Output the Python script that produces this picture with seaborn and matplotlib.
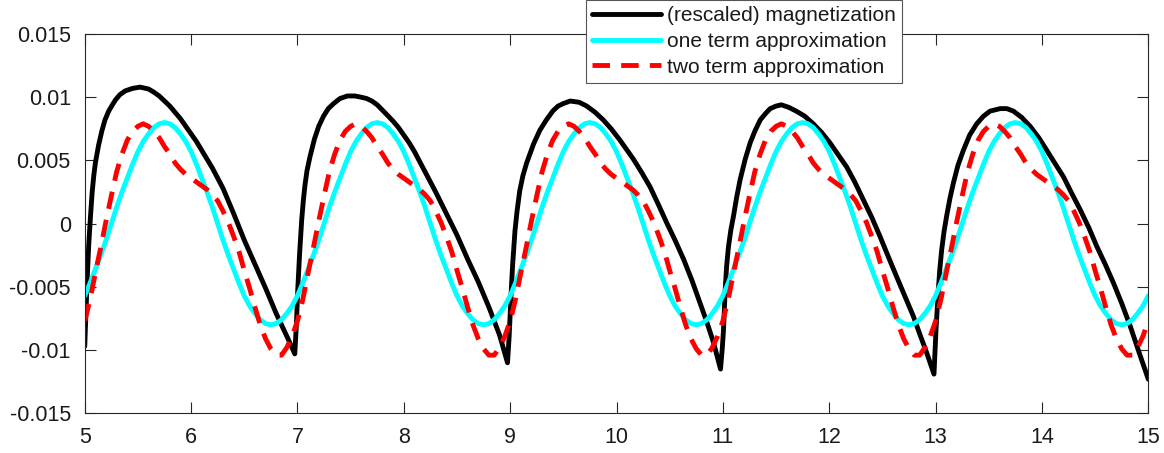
import numpy as np
import matplotlib
matplotlib.use("Agg")
import matplotlib.pyplot as plt
import seaborn as sns

# ---------------- data ----------------
series_labels = ["(rescaled) magnetization", "one term approximation", "two term approximation"]

x_ticks = [5, 6, 7, 8, 9, 10, 11, 12, 13, 14, 15]
x_tick_labels = ["5", "6", "7", "8", "9", "10", "11", "12", "13", "14", "15"]
y_ticks = [-0.015, -0.01, -0.005, 0.0, 0.005, 0.01, 0.015]
y_tick_labels = ["-0.015", "-0.01", "-0.005", "0", "0.005", "0.01", "0.015"]

# (rescaled) magnetization, irregular samples
mag_x = [
    5.000, 5.010, 5.022, 5.038, 5.055, 5.070, 5.085, 5.100, 5.130, 5.160, 5.190, 5.225, 5.260, 5.290,
    5.330, 5.380, 5.450, 5.520, 5.600, 5.650, 5.700, 5.750, 5.800, 5.850, 5.900, 5.950, 6.000, 6.050,
    6.100, 6.150, 6.200, 6.250, 6.300, 6.400, 6.500, 6.600, 6.700, 6.800, 6.900, 6.975,
    6.990, 7.003, 7.020, 7.040, 7.055, 7.070, 7.090, 7.118, 7.160, 7.200, 7.245, 7.290, 7.340, 7.400,
    7.470, 7.540, 7.600, 7.650, 7.700, 7.750, 7.820, 7.900, 7.950, 8.000, 8.050, 8.100, 8.150, 8.200,
    8.300, 8.400, 8.500, 8.600, 8.700, 8.800, 8.900, 8.975,
    8.990, 9.000, 9.012, 9.023, 9.045, 9.065, 9.090, 9.120, 9.155, 9.220, 9.280, 9.340, 9.400, 9.450,
    9.500, 9.565, 9.650, 9.720, 9.800, 9.876, 9.950, 10.033, 10.100, 10.159, 10.240, 10.316, 10.400,
    10.470, 10.550, 10.630, 10.710, 10.786, 10.850, 10.912, 10.978,
    10.995, 11.006, 11.022, 11.035, 11.053, 11.075, 11.100, 11.130, 11.163, 11.210, 11.257, 11.300,
    11.351, 11.400, 11.445, 11.500, 11.550, 11.620, 11.690, 11.770, 11.850, 11.930, 12.006, 12.080,
    12.163, 12.240, 12.320, 12.400, 12.477, 12.550, 12.634, 12.710, 12.790, 12.850, 12.916, 12.985,
    13.004, 13.026, 13.040, 13.057, 13.080, 13.104, 13.135, 13.167, 13.210, 13.261, 13.320, 13.387,
    13.450, 13.512, 13.560, 13.607, 13.670, 13.732, 13.810, 13.889, 13.970, 14.046, 14.120, 14.203,
    14.280, 14.360, 14.440, 14.516, 14.600, 14.673, 14.750, 14.830, 14.910, 15.000,
]
mag_y = [
    -0.0097, -0.0073, -0.0046, -0.0016, 0.0007, 0.0025, 0.0038, 0.0048, 0.0062, 0.0073, 0.0082, 0.0089, 0.0094, 0.0098,
    0.0102, 0.0105, 0.0107, 0.0108, 0.01065, 0.0104, 0.0101, 0.0097, 0.0093, 0.0088, 0.0083, 0.0077, 0.0071, 0.0065,
    0.0058, 0.0051, 0.0044, 0.0036, 0.0028, 0.0008, -0.0013, -0.0032, -0.0051, -0.0071, -0.0089, -0.0103,
    -0.0080, -0.0052, -0.0024, 0.0003, 0.0018, 0.0030, 0.0042, 0.0053, 0.0067, 0.0077, 0.0085, 0.0091, 0.0095, 0.0099,
    0.0101, 0.0101, 0.0100, 0.0099, 0.0097, 0.0094, 0.0088, 0.0081, 0.0076, 0.0070, 0.0064, 0.0057, 0.0049, 0.0041,
    0.0025, 0.0008, -0.0009, -0.0028, -0.0046, -0.0066, -0.0088, -0.0110,
    -0.0090, -0.0072, -0.0050, -0.0033, -0.0006, 0.0010, 0.0026, 0.0038, 0.0048, 0.0063, 0.0074, 0.0082, 0.0089, 0.0093,
    0.0095, 0.0097, 0.0096, 0.0093, 0.0088, 0.0082, 0.0075, 0.0066, 0.0058, 0.0051, 0.0040, 0.0029, 0.0014,
    0.0001, -0.0013, -0.0028, -0.0045, -0.0063, -0.0078, -0.0094, -0.0115,
    -0.0098, -0.0084, -0.0052, -0.0034, -0.0018, -0.0005, 0.0006, 0.0021, 0.0035, 0.0051, 0.0064, 0.0073,
    0.0082, 0.0087, 0.0091, 0.0093, 0.0094, 0.0092, 0.0089, 0.0085, 0.0079, 0.0072, 0.0064, 0.0055,
    0.0045, 0.0033, 0.0019, 0.0005, -0.0010, -0.0025, -0.0042, -0.0057, -0.0073, -0.0087, -0.0102, -0.0119,
    -0.0084, -0.0052, -0.0036, -0.0021, -0.0006, 0.0006, 0.0020, 0.0032, 0.0046, 0.0058, 0.0070, 0.0079,
    0.0085, 0.0089, 0.0090, 0.0091, 0.0091, 0.0089, 0.0084, 0.0077, 0.0068, 0.0058, 0.0048, 0.0037,
    0.0024, 0.0011, -0.0003, -0.0018, -0.0033, -0.0047, -0.0063, -0.0081, -0.0101, -0.0123,
]

# approximations, sampled every 0.05 from 5 to 15
approx_x = np.linspace(5.0, 15.0, 201)
one_term_y = [
    # 5.00 - 6.95
    -0.0057, -0.0047, -0.0036, -0.0025, -0.0013, 0.0000, 0.0013, 0.0025, 0.0036, 0.0047,
    0.0057, 0.0065, 0.0071, 0.0076, 0.0079, 0.0080, 0.0079, 0.0076, 0.0071, 0.0065,
    0.0057, 0.0047, 0.0036, 0.0025, 0.0013, 0.0000, -0.0013, -0.0025, -0.0036, -0.0047,
    -0.0057, -0.0065, -0.0071, -0.0076, -0.0079, -0.0080, -0.0079, -0.0076, -0.0071, -0.0065,
    # 7.00 - 8.95
    -0.0057, -0.0047, -0.0036, -0.0025, -0.0013, 0.0000, 0.0013, 0.0025, 0.0036, 0.0047,
    0.0057, 0.0065, 0.0071, 0.0076, 0.0079, 0.0080, 0.0079, 0.0076, 0.0071, 0.0065,
    0.0057, 0.0047, 0.0036, 0.0025, 0.0013, 0.0000, -0.0013, -0.0025, -0.0036, -0.0047,
    -0.0057, -0.0065, -0.0071, -0.0076, -0.0079, -0.0080, -0.0079, -0.0076, -0.0071, -0.0065,
    # 9.00 - 10.95
    -0.0057, -0.0047, -0.0036, -0.0025, -0.0013, 0.0000, 0.0013, 0.0025, 0.0036, 0.0047,
    0.0057, 0.0065, 0.0071, 0.0076, 0.0079, 0.0080, 0.0079, 0.0076, 0.0071, 0.0065,
    0.0057, 0.0047, 0.0036, 0.0025, 0.0013, 0.0000, -0.0013, -0.0025, -0.0036, -0.0047,
    -0.0057, -0.0065, -0.0071, -0.0076, -0.0079, -0.0080, -0.0079, -0.0076, -0.0071, -0.0065,
    # 11.00 - 12.95
    -0.0057, -0.0047, -0.0036, -0.0025, -0.0013, 0.0000, 0.0013, 0.0025, 0.0036, 0.0047,
    0.0057, 0.0065, 0.0071, 0.0076, 0.0079, 0.0080, 0.0079, 0.0076, 0.0071, 0.0065,
    0.0057, 0.0047, 0.0036, 0.0025, 0.0013, 0.0000, -0.0013, -0.0025, -0.0036, -0.0047,
    -0.0057, -0.0065, -0.0071, -0.0076, -0.0079, -0.0080, -0.0079, -0.0076, -0.0071, -0.0065,
    # 13.00 - 14.95
    -0.0057, -0.0047, -0.0036, -0.0025, -0.0013, 0.0000, 0.0013, 0.0025, 0.0036, 0.0047,
    0.0057, 0.0065, 0.0071, 0.0076, 0.0079, 0.0080, 0.0079, 0.0076, 0.0071, 0.0065,
    0.0057, 0.0047, 0.0036, 0.0025, 0.0013, 0.0000, -0.0013, -0.0025, -0.0036, -0.0047,
    -0.0057, -0.0065, -0.0071, -0.0076, -0.0079, -0.0080, -0.0079, -0.0076, -0.0071, -0.0065,
    # 15.00
    -0.0057,
]
two_term_y = [
    # 5.00 - 6.95
    -0.0077, -0.0060, -0.0039, -0.0019, 0.0002, 0.0022, 0.0041, 0.0055, 0.0066, 0.0073,
    0.0077, 0.0079, 0.0077, 0.0073, 0.0068, 0.0061, 0.0055, 0.0048, 0.0043, 0.0039,
    0.0036, 0.0033, 0.0030, 0.0027, 0.0023, 0.0018, 0.0010, 0.0001, -0.0010, -0.0022,
    -0.0037, -0.0051, -0.0066, -0.0080, -0.0091, -0.0099, -0.0104, -0.0104, -0.0098, -0.0089,
    # 7.00 - 8.95
    -0.0077, -0.0060, -0.0039, -0.0019, 0.0002, 0.0022, 0.0041, 0.0055, 0.0066, 0.0073,
    0.0077, 0.0079, 0.0077, 0.0073, 0.0068, 0.0061, 0.0055, 0.0048, 0.0043, 0.0039,
    0.0036, 0.0033, 0.0030, 0.0027, 0.0023, 0.0018, 0.0010, 0.0001, -0.0010, -0.0022,
    -0.0037, -0.0051, -0.0066, -0.0080, -0.0091, -0.0099, -0.0104, -0.0104, -0.0098, -0.0089,
    # 9.00 - 10.95
    -0.0077, -0.0060, -0.0039, -0.0019, 0.0002, 0.0022, 0.0041, 0.0055, 0.0066, 0.0073,
    0.0077, 0.0079, 0.0077, 0.0073, 0.0068, 0.0061, 0.0055, 0.0048, 0.0043, 0.0039,
    0.0036, 0.0033, 0.0030, 0.0027, 0.0023, 0.0018, 0.0010, 0.0001, -0.0010, -0.0022,
    -0.0037, -0.0051, -0.0066, -0.0080, -0.0091, -0.0099, -0.0104, -0.0104, -0.0098, -0.0089,
    # 11.00 - 12.95
    -0.0077, -0.0060, -0.0039, -0.0019, 0.0002, 0.0022, 0.0041, 0.0055, 0.0066, 0.0073,
    0.0077, 0.0079, 0.0077, 0.0073, 0.0068, 0.0061, 0.0055, 0.0048, 0.0043, 0.0039,
    0.0036, 0.0033, 0.0030, 0.0027, 0.0023, 0.0018, 0.0010, 0.0001, -0.0010, -0.0022,
    -0.0037, -0.0051, -0.0066, -0.0080, -0.0091, -0.0099, -0.0104, -0.0104, -0.0098, -0.0089,
    # 13.00 - 14.95
    -0.0077, -0.0060, -0.0039, -0.0019, 0.0002, 0.0022, 0.0041, 0.0055, 0.0066, 0.0073,
    0.0077, 0.0079, 0.0077, 0.0073, 0.0068, 0.0061, 0.0055, 0.0048, 0.0043, 0.0039,
    0.0036, 0.0033, 0.0030, 0.0027, 0.0023, 0.0018, 0.0010, 0.0001, -0.0010, -0.0022,
    -0.0037, -0.0051, -0.0066, -0.0080, -0.0091, -0.0099, -0.0104, -0.0104, -0.0098, -0.0089,
    # 15.00
    -0.0077,
]

# ---------------- styling ----------------
sns.set_theme(style="ticks")
plt.rcParams['font.family'] = ['Liberation Sans', 'DejaVu Sans']
axis_color = '#262626'

fig = plt.figure(figsize=(11.64, 4.53), dpi=100)
ax = fig.add_axes([0.0728, 0.0876, 0.9137, 0.8373])

sns.lineplot(x=mag_x, y=mag_y, ax=ax, color='black', lw=3.5, sort=False,
             estimator=None, label=series_labels[0])
sns.lineplot(x=approx_x, y=one_term_y, ax=ax, color='#00FFFF', lw=3.5, sort=False,
             estimator=None, label=series_labels[1])
sns.lineplot(x=approx_x, y=two_term_y, ax=ax, color='#FF0000', lw=3.5, sort=False,
             estimator=None, label=series_labels[2], linestyle=(0, (3.6, 2.3)))

ax.set_xlim(5, 15)
ax.set_ylim(-0.015, 0.015)
ax.set_xticks(x_ticks)
ax.set_xticklabels(x_tick_labels)
ax.set_yticks(y_ticks)
ax.set_yticklabels(y_tick_labels)
ax.set_xlabel("")
ax.set_ylabel("")
ax.tick_params(direction='in', length=8, width=0.8, top=True, right=True,
               labelsize=15.5, color=axis_color, labelcolor='#1a1a1a', pad=10)
for s in ax.spines.values():
    s.set_visible(True)
    s.set_color(axis_color)
    s.set_linewidth(0.8)

leg = ax.legend(loc='lower left', bbox_to_anchor=(586 / 1164, 1 - 83 / 453),
                bbox_transform=fig.transFigure, fontsize=15, frameon=True,
                fancybox=False, edgecolor='#555555', framealpha=1,
                borderpad=0.3, labelspacing=0.33, handlelength=3.3,
                handletextpad=0.3, borderaxespad=0)
leg.get_frame().set_linewidth(0.8)
for t in leg.get_texts():
    t.set_color('#1a1a1a')

fig.savefig('out.png', dpi=100)
